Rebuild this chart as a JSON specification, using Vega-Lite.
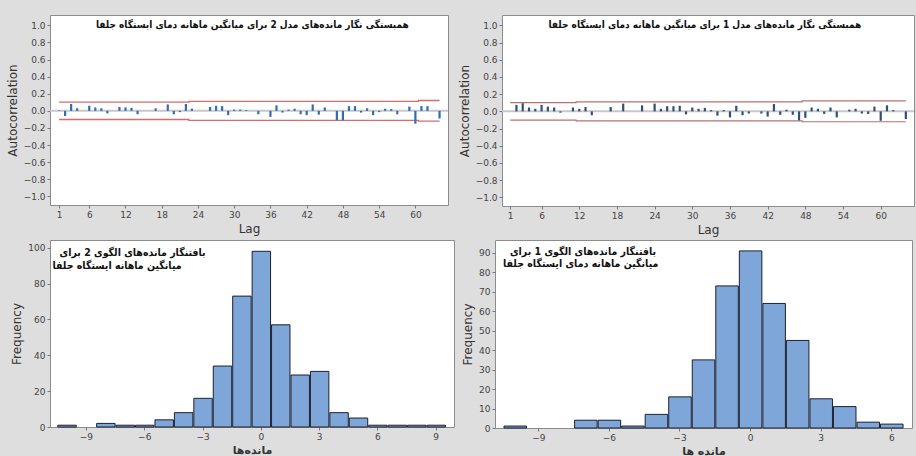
{
  "$schema": "https://vega.github.io/schema/vega-lite/v6.json",
  "background": "#dedede",
  "padding": {"left": 5, "top": 14, "right": 0, "bottom": 0},
  "spacing": 3,
  "config": {
    "view": {"stroke": "#8c8c8c", "fill": "white", "strokeWidth": 1},
    "axis": {
      "grid": false, "domain": false, "tickSize": 3, "tickColor": "#777777",
      "labelFont": "DejaVu Sans", "labelFontSize": 9, "labelColor": "#444444",
      "titleFont": "DejaVu Sans", "titleFontWeight": "normal", "titleFontSize": 12,
      "titleColor": "#333333", "labelPadding": 2, "titlePadding": 4
    },
    "text": {"font": "DejaVu Sans Condensed, DejaVu Sans", "fontWeight": "bold", "fontSize": 10, "color": "#111111"}
  },
  "datasets": {
    "acf2": [
      {"lag": 1, "value": 0.005}, {"lag": 2, "value": -0.06}, {"lag": 3, "value": 0.08}, {"lag": 4, "value": 0.03},
      {"lag": 5, "value": 0.0}, {"lag": 6, "value": 0.06}, {"lag": 7, "value": 0.04}, {"lag": 8, "value": 0.03},
      {"lag": 9, "value": -0.03}, {"lag": 10, "value": 0.0}, {"lag": 11, "value": 0.045}, {"lag": 12, "value": 0.04},
      {"lag": 13, "value": 0.035}, {"lag": 14, "value": -0.04}, {"lag": 15, "value": 0.0}, {"lag": 16, "value": 0.0},
      {"lag": 17, "value": 0.03}, {"lag": 18, "value": 0.0}, {"lag": 19, "value": 0.075}, {"lag": 20, "value": -0.04},
      {"lag": 21, "value": -0.015}, {"lag": 22, "value": 0.08}, {"lag": 23, "value": 0.025}, {"lag": 24, "value": 0.0},
      {"lag": 25, "value": 0.0}, {"lag": 26, "value": 0.045}, {"lag": 27, "value": 0.06}, {"lag": 28, "value": 0.055},
      {"lag": 29, "value": -0.05}, {"lag": 30, "value": 0.015}, {"lag": 31, "value": 0.015}, {"lag": 32, "value": 0.01},
      {"lag": 33, "value": 0.0}, {"lag": 34, "value": -0.04}, {"lag": 35, "value": 0.0}, {"lag": 36, "value": -0.07},
      {"lag": 37, "value": 0.065}, {"lag": 38, "value": -0.02}, {"lag": 39, "value": 0.015}, {"lag": 40, "value": 0.025},
      {"lag": 41, "value": -0.04}, {"lag": 42, "value": -0.05}, {"lag": 43, "value": 0.075}, {"lag": 44, "value": -0.045},
      {"lag": 45, "value": 0.04}, {"lag": 46, "value": 0.0}, {"lag": 47, "value": -0.11}, {"lag": 48, "value": -0.11},
      {"lag": 49, "value": 0.055}, {"lag": 50, "value": 0.055}, {"lag": 51, "value": -0.02}, {"lag": 52, "value": 0.03},
      {"lag": 53, "value": -0.05}, {"lag": 54, "value": -0.015}, {"lag": 55, "value": 0.025}, {"lag": 56, "value": 0.02},
      {"lag": 57, "value": -0.04}, {"lag": 58, "value": 0.0}, {"lag": 59, "value": 0.05}, {"lag": 60, "value": -0.15},
      {"lag": 61, "value": 0.055}, {"lag": 62, "value": 0.055}, {"lag": 63, "value": 0.0}, {"lag": 64, "value": -0.09}
    ],
    "acf1": [
      {"lag": 1, "value": 0.0}, {"lag": 2, "value": 0.075}, {"lag": 3, "value": 0.095}, {"lag": 4, "value": 0.045},
      {"lag": 5, "value": 0.03}, {"lag": 6, "value": 0.075}, {"lag": 7, "value": 0.055}, {"lag": 8, "value": 0.045},
      {"lag": 9, "value": -0.015}, {"lag": 10, "value": 0.0}, {"lag": 11, "value": 0.045}, {"lag": 12, "value": 0.03},
      {"lag": 13, "value": 0.05}, {"lag": 14, "value": -0.045}, {"lag": 15, "value": 0.0}, {"lag": 16, "value": 0.0},
      {"lag": 17, "value": 0.05}, {"lag": 18, "value": 0.0}, {"lag": 19, "value": 0.09}, {"lag": 20, "value": 0.0},
      {"lag": 21, "value": 0.0}, {"lag": 22, "value": 0.07}, {"lag": 23, "value": 0.0}, {"lag": 24, "value": 0.09},
      {"lag": 25, "value": 0.03}, {"lag": 26, "value": 0.06}, {"lag": 27, "value": 0.06}, {"lag": 28, "value": 0.065},
      {"lag": 29, "value": -0.035}, {"lag": 30, "value": 0.045}, {"lag": 31, "value": 0.03}, {"lag": 32, "value": 0.04},
      {"lag": 33, "value": 0.015}, {"lag": 34, "value": -0.05}, {"lag": 35, "value": 0.015}, {"lag": 36, "value": -0.07},
      {"lag": 37, "value": 0.065}, {"lag": 38, "value": -0.045}, {"lag": 39, "value": -0.025}, {"lag": 40, "value": 0.0},
      {"lag": 41, "value": -0.025}, {"lag": 42, "value": -0.06}, {"lag": 43, "value": 0.085}, {"lag": 44, "value": -0.04},
      {"lag": 45, "value": 0.02}, {"lag": 46, "value": -0.04}, {"lag": 47, "value": -0.105}, {"lag": 48, "value": -0.075},
      {"lag": 49, "value": 0.045}, {"lag": 50, "value": 0.03}, {"lag": 51, "value": -0.03}, {"lag": 52, "value": 0.045},
      {"lag": 53, "value": -0.07}, {"lag": 54, "value": 0.0}, {"lag": 55, "value": 0.02}, {"lag": 56, "value": 0.03},
      {"lag": 57, "value": -0.025}, {"lag": 58, "value": -0.03}, {"lag": 59, "value": 0.055}, {"lag": 60, "value": -0.11},
      {"lag": 61, "value": 0.07}, {"lag": 62, "value": 0.015}, {"lag": 63, "value": 0.0}, {"lag": 64, "value": -0.09}
    ],
    "lim2": [
      {"lag": 1, "value": 0.101, "side": "upper"}, {"lag": 22, "value": 0.101, "side": "upper"},
      {"lag": 23, "value": 0.111, "side": "upper"}, {"lag": 60, "value": 0.111, "side": "upper"},
      {"lag": 61, "value": 0.121, "side": "upper"}, {"lag": 64, "value": 0.121, "side": "upper"},
      {"lag": 1, "value": -0.101, "side": "lower"}, {"lag": 22, "value": -0.101, "side": "lower"},
      {"lag": 23, "value": -0.111, "side": "lower"}, {"lag": 60, "value": -0.111, "side": "lower"},
      {"lag": 61, "value": -0.121, "side": "lower"}, {"lag": 64, "value": -0.121, "side": "lower"}
    ],
    "lim1": [
      {"lag": 1, "value": 0.101, "side": "upper"}, {"lag": 11, "value": 0.101, "side": "upper"},
      {"lag": 12, "value": 0.111, "side": "upper"}, {"lag": 47, "value": 0.111, "side": "upper"},
      {"lag": 48, "value": 0.121, "side": "upper"}, {"lag": 64, "value": 0.121, "side": "upper"},
      {"lag": 1, "value": -0.101, "side": "lower"}, {"lag": 11, "value": -0.101, "side": "lower"},
      {"lag": 12, "value": -0.111, "side": "lower"}, {"lag": 47, "value": -0.111, "side": "lower"},
      {"lag": 48, "value": -0.121, "side": "lower"}, {"lag": 64, "value": -0.121, "side": "lower"}
    ],
    "hist2": [
      {"bin_start": -10.5, "bin_end": -9.5, "freq": 1}, {"bin_start": -8.5, "bin_end": -7.5, "freq": 2},
      {"bin_start": -7.5, "bin_end": -6.5, "freq": 1}, {"bin_start": -6.5, "bin_end": -5.5, "freq": 1},
      {"bin_start": -5.5, "bin_end": -4.5, "freq": 4}, {"bin_start": -4.5, "bin_end": -3.5, "freq": 8},
      {"bin_start": -3.5, "bin_end": -2.5, "freq": 16}, {"bin_start": -2.5, "bin_end": -1.5, "freq": 34},
      {"bin_start": -1.5, "bin_end": -0.5, "freq": 73}, {"bin_start": -0.5, "bin_end": 0.5, "freq": 98},
      {"bin_start": 0.5, "bin_end": 1.5, "freq": 57}, {"bin_start": 1.5, "bin_end": 2.5, "freq": 29},
      {"bin_start": 2.5, "bin_end": 3.5, "freq": 31}, {"bin_start": 3.5, "bin_end": 4.5, "freq": 8},
      {"bin_start": 4.5, "bin_end": 5.5, "freq": 5}, {"bin_start": 5.5, "bin_end": 6.5, "freq": 1},
      {"bin_start": 6.5, "bin_end": 7.5, "freq": 1}, {"bin_start": 7.5, "bin_end": 8.5, "freq": 1},
      {"bin_start": 8.5, "bin_end": 9.5, "freq": 1}
    ],
    "hist1": [
      {"bin_start": -10.5, "bin_end": -9.5, "freq": 1}, {"bin_start": -7.5, "bin_end": -6.5, "freq": 4},
      {"bin_start": -6.5, "bin_end": -5.5, "freq": 4}, {"bin_start": -5.5, "bin_end": -4.5, "freq": 1},
      {"bin_start": -4.5, "bin_end": -3.5, "freq": 7}, {"bin_start": -3.5, "bin_end": -2.5, "freq": 16},
      {"bin_start": -2.5, "bin_end": -1.5, "freq": 35}, {"bin_start": -1.5, "bin_end": -0.5, "freq": 73},
      {"bin_start": -0.5, "bin_end": 0.5, "freq": 91}, {"bin_start": 0.5, "bin_end": 1.5, "freq": 64},
      {"bin_start": 1.5, "bin_end": 2.5, "freq": 45}, {"bin_start": 2.5, "bin_end": 3.5, "freq": 15},
      {"bin_start": 3.5, "bin_end": 4.5, "freq": 11}, {"bin_start": 4.5, "bin_end": 5.5, "freq": 3},
      {"bin_start": 5.5, "bin_end": 6.5, "freq": 2}
    ]
  },
  "vconcat": [
    {
      "spacing": 7,
      "hconcat": [
        {
          "width": 398, "height": 190,
          "encoding": {
            "y": {"field": "value", "type": "quantitative",
                  "scale": {"domain": [-1.1, 1.12], "nice": false, "zero": false},
                  "axis": {"values": [-1, -0.8, -0.6, -0.4, -0.2, 0, 0.2, 0.4, 0.6, 0.8, 1], "format": ".1f", "title": "Autocorrelation"}}
          },
          "layer": [
            {"data": {"values": [{"value": 0}]},
             "mark": {"type": "rule", "color": "#c8c8c8", "strokeWidth": 2}, "encoding": {}},
            {"data": {"name": "lim2"},
             "mark": {"type": "line", "interpolate": "step", "color": "#d06e6a", "strokeWidth": 1.3},
             "encoding": {
               "x": {"field": "lag", "type": "quantitative", "scale": {"domain": [-0.5, 65.4], "nice": false, "zero": false},
                     "axis": {"values": [1, 6, 12, 18, 24, 30, 36, 42, 48, 54, 60], "title": "Lag"}},
               "detail": {"field": "side"}
             }},
            {"data": {"name": "acf2"},
             "mark": {"type": "rule", "color": "#2f6db5", "strokeWidth": 2.2},
             "encoding": {
               "x": {"field": "lag", "type": "quantitative", "scale": {"domain": [-0.5, 65.4], "nice": false, "zero": false},
                     "axis": {"values": [1, 6, 12, 18, 24, 30, 36, 42, 48, 54, 60], "title": "Lag"}},
               "y2": {"datum": 0}
             }},
            {"data": {"values": [{"lag": 33, "value": 1.0, "note": "همبستگی نگار مانده‌های مدل 2 برای میانگین ماهانه دمای ایستگاه جلفا"}]},
             "mark": {"type": "text"},
             "encoding": {
               "x": {"field": "lag", "type": "quantitative", "scale": {"domain": [-0.5, 65.4], "nice": false, "zero": false},
                     "axis": {"values": [1, 6, 12, 18, 24, 30, 36, 42, 48, 54, 60], "title": "Lag"}},
               "text": {"field": "note"}
             }}
          ]
        },
        {
          "width": 412, "height": 191,
          "encoding": {
            "y": {"field": "value", "type": "quantitative",
                  "scale": {"domain": [-1.1, 1.12], "nice": false, "zero": false},
                  "axis": {"values": [-1, -0.8, -0.6, -0.4, -0.2, 0, 0.2, 0.4, 0.6, 0.8, 1], "format": ".1f", "title": "Autocorrelation"}}
          },
          "layer": [
            {"data": {"values": [{"value": 0}]},
             "mark": {"type": "rule", "color": "#c8c8c8", "strokeWidth": 2}, "encoding": {}},
            {"data": {"name": "lim1"},
             "mark": {"type": "line", "interpolate": "step", "color": "#b8716e", "strokeWidth": 1.2},
             "encoding": {
               "x": {"field": "lag", "type": "quantitative", "scale": {"domain": [-0.3, 65.3], "nice": false, "zero": false},
                     "axis": {"values": [1, 6, 12, 18, 24, 30, 36, 42, 48, 54, 60], "title": "Lag"}},
               "detail": {"field": "side"}
             }},
            {"data": {"name": "acf1"},
             "mark": {"type": "rule", "color": "#2d5275", "strokeWidth": 2.2},
             "encoding": {
               "x": {"field": "lag", "type": "quantitative", "scale": {"domain": [-0.3, 65.3], "nice": false, "zero": false},
                     "axis": {"values": [1, 6, 12, 18, 24, 30, 36, 42, 48, 54, 60], "title": "Lag"}},
               "y2": {"datum": 0}
             }},
            {"data": {"values": [{"lag": 32, "value": 1.0, "note": "همبستگی نگار مانده‌های مدل 1 برای میانگین ماهانه دمای ایستگاه جلفا"}]},
             "mark": {"type": "text"},
             "encoding": {
               "x": {"field": "lag", "type": "quantitative", "scale": {"domain": [-0.3, 65.3], "nice": false, "zero": false},
                     "axis": {"values": [1, 6, 12, 18, 24, 30, 36, 42, 48, 54, 60], "title": "Lag"}},
               "text": {"field": "note"}
             }}
          ]
        }
      ]
    },
    {
      "spacing": 6,
      "hconcat": [
        {
          "width": 404, "height": 187,
          "encoding": {
            "y": {"field": "freq", "type": "quantitative",
                  "scale": {"domain": [0, 104.3], "nice": false},
                  "axis": {"values": [0, 20, 40, 60, 80, 100], "title": "Frequency"}}
          },
          "layer": [
            {"data": {"name": "hist2"},
             "mark": {"type": "bar", "fill": "#7ea6d8", "stroke": "#1d2030", "strokeWidth": 1},
             "encoding": {
               "x": {"field": "bin_start", "type": "quantitative", "bin": "binned",
                     "scale": {"domain": [-10.85, 9.94], "nice": false, "zero": false},
                     "axis": {"values": [-9, -6, -3, 0, 3, 6, 9], "title": "مانده‌ها", "titleFontWeight": "bold", "titleFontSize": 11, "titlePadding": 3}},
               "x2": {"field": "bin_end"}
             }},
            {"data": {"values": [
               {"res": -6.6, "freq": 97, "note": "بافتنگار مانده‌های الگوی 2 برای"},
               {"res": -7.4, "freq": 90, "note": "میانگین ماهانه ایستگاه جلفا"}
             ]},
             "mark": {"type": "text", "fontSize": 10.5},
             "encoding": {
               "x": {"field": "res", "type": "quantitative",
                     "scale": {"domain": [-10.85, 9.94], "nice": false, "zero": false},
                     "axis": {"values": [-9, -6, -3, 0, 3, 6, 9], "title": "مانده‌ها", "titleFontWeight": "bold", "titleFontSize": 11, "titlePadding": 3}},
               "text": {"field": "note"}
             }}
          ]
        },
        {
          "width": 417, "height": 188,
          "encoding": {
            "y": {"field": "freq", "type": "quantitative",
                  "scale": {"domain": [0, 96.6], "nice": false},
                  "axis": {"values": [0, 10, 20, 30, 40, 50, 60, 70, 80, 90], "title": "Frequency"}}
          },
          "layer": [
            {"data": {"name": "hist1"},
             "mark": {"type": "bar", "fill": "#7ea6d8", "stroke": "#1d2030", "strokeWidth": 1},
             "encoding": {
               "x": {"field": "bin_start", "type": "quantitative", "bin": "binned",
                     "scale": {"domain": [-10.84, 6.88], "nice": false, "zero": false},
                     "axis": {"values": [-9, -6, -3, 0, 3, 6], "title": "مانده ها", "titleFontWeight": "bold", "titleFontSize": 11, "titlePadding": 3}},
               "x2": {"field": "bin_end"}
             }},
            {"data": {"values": [
               {"res": -7.1, "freq": 90.3, "note": "بافتنگار مانده‌های الگوی 1 برای"},
               {"res": -7.2, "freq": 84.4, "note": "میانگین ماهانه دمای ایستگاه جلفا"}
             ]},
             "mark": {"type": "text", "fontSize": 10.5},
             "encoding": {
               "x": {"field": "res", "type": "quantitative",
                     "scale": {"domain": [-10.84, 6.88], "nice": false, "zero": false},
                     "axis": {"values": [-9, -6, -3, 0, 3, 6], "title": "مانده ها", "titleFontWeight": "bold", "titleFontSize": 11, "titlePadding": 3}},
               "text": {"field": "note"}
             }}
          ]
        }
      ]
    }
  ]
}
